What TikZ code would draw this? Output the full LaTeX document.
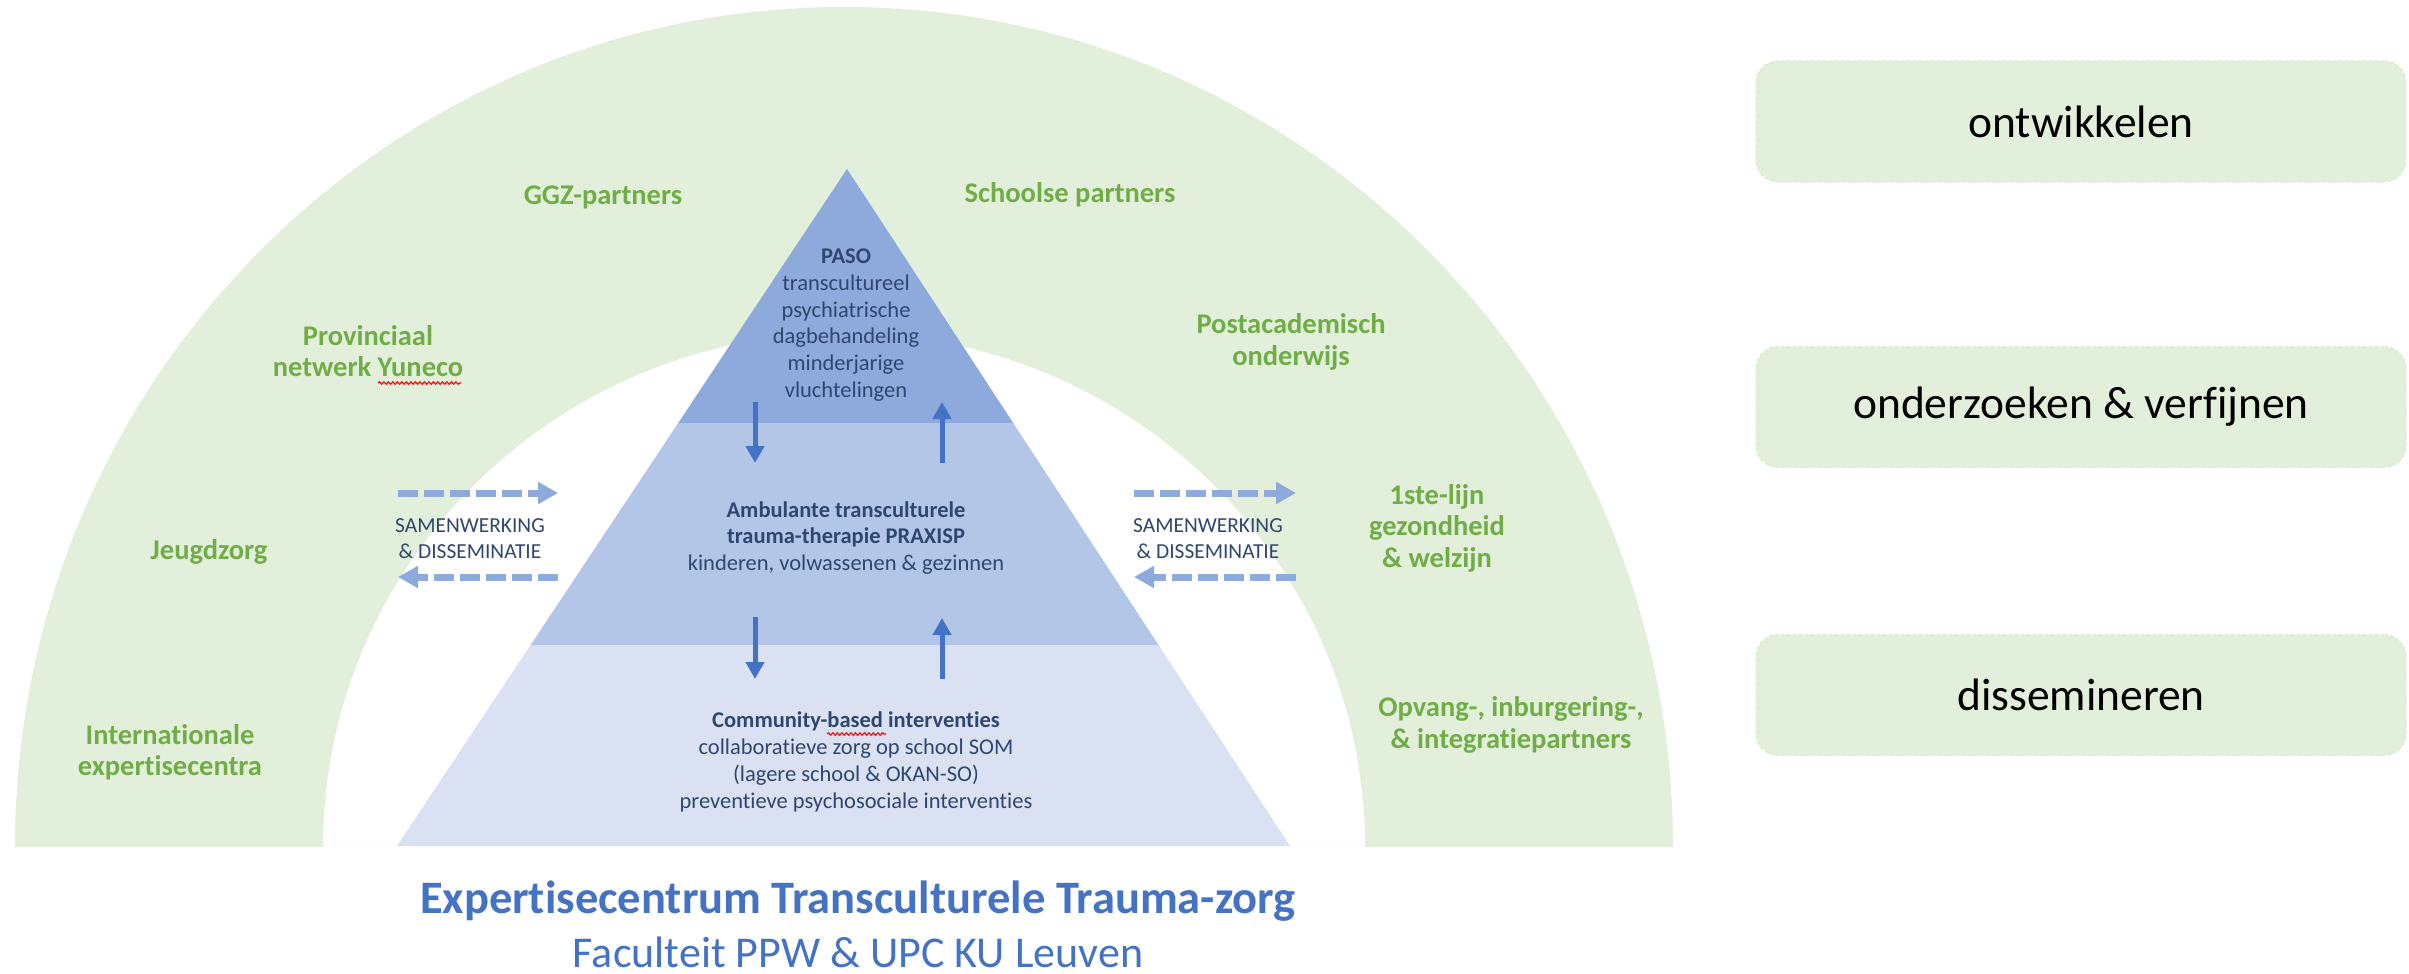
\documentclass[tikz,border=0pt]{standalone}
\usepackage{fontspec}
\setmainfont{Carlito}[Ligatures=NoCommon]
\usetikzlibrary{arrows.meta,decorations.pathmorphing}

\definecolor{archgreen}{HTML}{E2EFDA}
\definecolor{labgreen}{HTML}{70AD47}
\definecolor{pyrA}{HTML}{8EA9DB}
\definecolor{pyrB}{HTML}{B4C6E7}
\definecolor{pyrC}{HTML}{D9E1F2}
\definecolor{navytxt}{HTML}{2F4770}
\definecolor{arrblue}{HTML}{4472C4}
\definecolor{dashblue}{HTML}{8EA9DB}
\definecolor{boxedge}{HTML}{D8EACC}
\definecolor{titleblue}{HTML}{4472C4}

\tikzset{
  greenlabel/.style={inner sep=0pt, align=center, text=labgreen,
    font=\fontsize{28.5}{31.5}\selectfont\bfseries},
  pyrtext/.style={inner sep=0pt, align=center, text=navytxt,
    font=\fontsize{22.5}{26.8}\selectfont},
  samtext/.style={inner sep=0pt, align=center, text=navytxt,
    font=\fontsize{21.4}{26}\selectfont},
  solidarr/.style={draw=arrblue, line width=5pt,
    -{Triangle[length=17pt,width=18pt]}},
  dasharr/.style={draw=dashblue, line width=7pt, dash pattern=on 20pt off 6pt,
    -{Triangle[length=20pt,width=21pt]}},
  sidebox/.style={draw=boxedge, dashed, line width=1pt, fill=archgreen,
    rounded corners=22pt, minimum width=650pt, minimum height=121pt,
    inner sep=0pt, font=\fontsize{45.5}{50}\selectfont, text=black},
  squiggle/.style={draw=red, line width=1.1pt, decorate,
    decoration={snake, amplitude=1.3pt, segment length=4.5pt}},
  titletext/.style={inner sep=0pt, anchor=base, text=titleblue}
}

\begin{document}
\begin{tikzpicture}[x=1pt,y=-1pt]
\useasboundingbox (0,0) rectangle (2409,974);
\fill[white] (0,0) rectangle (2409,974);

% arch
\fill[archgreen, even odd rule]
  (15,847) arc[start angle=180, end angle=360, x radius=829, y radius=840] -- cycle
  (323,847) arc[start angle=180, end angle=360, x radius=521, y radius=514] -- cycle;

% pyramid
\coordinate (apex) at (847,169);
\coordinate (l1) at (678.2,423);
\coordinate (r1) at (1013.2,423);
\coordinate (l2) at (530.6,645);
\coordinate (r2) at (1158.5,645);
\coordinate (bl) at (397,846);
\coordinate (br) at (1290,846);
\fill[pyrA] (apex) -- (r1) -- (l1) -- cycle;
\fill[pyrB] (l1) -- (r1) -- (r2) -- (l2) -- cycle;
\fill[pyrC] (l2) -- (r2) -- (br) -- (bl) -- cycle;

% pyramid arrows
\coordinate (d1a) at (755,402); \coordinate (d1b) at (755,463);
\coordinate (u1a) at (942,463); \coordinate (u1b) at (942,402);
\coordinate (d2a) at (755,617); \coordinate (d2b) at (755,679);
\coordinate (u2a) at (942,679); \coordinate (u2b) at (942,618);
\draw[solidarr] (d1a) -- (d1b);
\draw[solidarr] (u1a) -- (u1b);
\draw[solidarr] (d2a) -- (d2b);
\draw[solidarr] (u2a) -- (u2b);

% pyramid text
\node[pyrtext] (paso) at (846,325) {\textbf{PASO}\\transcultureel\\psychiatrische\\dagbehandeling\\minderjarige\\vluchtelingen};
\node[pyrtext] (praxisp) at (846,538) {\textbf{Ambulante transculturele}\\\textbf{trauma-therapie PRAXISP}\\kinderen, volwassenen \& gezinnen};
\node[pyrtext] (community) at (856,762) {\textbf{Community-based interventies}\\collaboratieve zorg op school SOM\\(lagere school \& OKAN-SO)\\preventieve psychosociale interventies};

% dashed arrows
\coordinate (la1) at (398,493); \coordinate (la2) at (558,493);
\coordinate (lb1) at (558,577); \coordinate (lb2) at (398,577);
\coordinate (ra1) at (1134,493); \coordinate (ra2) at (1296,493);
\coordinate (rb1) at (1296,577); \coordinate (rb2) at (1134,577);
\draw[dasharr] (la1) -- (la2);
\draw[dasharr] (lb1) -- (lb2);
\draw[dasharr] (ra1) -- (ra2);
\draw[dasharr] (rb1) -- (rb2);
\node[samtext] (saml) at (470,539) {SAMENWERKING\\\& DISSEMINATIE};
\node[samtext] (samr) at (1208,539) {SAMENWERKING\\\& DISSEMINATIE};

% green labels
\node[greenlabel] (ggz) at (603,197) {GGZ-partners};
\node[greenlabel] (school) at (1070,195) {Schoolse partners};
\node[greenlabel] (prov) at (368,351) {Provinciaal\\netwerk Yuneco};
\node[greenlabel] (post) at (1291,342) {Postacademisch\\onderwijs};
\node[greenlabel] (jeugd) at (209,552) {Jeugdzorg};
\node[greenlabel] (lijn) at (1437,528) {1ste-lijn\\gezondheid\\\& welzijn};
\node[greenlabel] (inter) at (170,752) {Internationale\\expertisecentra};
\node[greenlabel] (opvang) at (1511,725) {Opvang-, inburgering-,\\\& integratiepartners};

% spell-check squiggles
\coordinate (sq1a) at (378,383); \coordinate (sq1b) at (461,383);
\coordinate (sq2a) at (827,734); \coordinate (sq2b) at (886,734);
\draw[squiggle] (sq1a) -- (sq1b);
\draw[squiggle] (sq2a) -- (sq2b);

% title
\node[titletext, font=\fontsize{46.5}{50}\selectfont\bfseries] (title) at (858,913) {Expertisecentrum Transculturele Trauma-zorg};
\node[titletext, font=\fontsize{44}{50}\selectfont] (sub) at (858,967) {Faculteit PPW \& UPC KU Leuven};

% side boxes
\node[sidebox] (b1) at (2081,121.5) {ontwikkelen};
\node[sidebox] (b2) at (2081,407) {onderzoeken \& verfijnen};
\node[sidebox] (b3) at (2081,695) {dissemineren};
\end{tikzpicture}
\end{document}
